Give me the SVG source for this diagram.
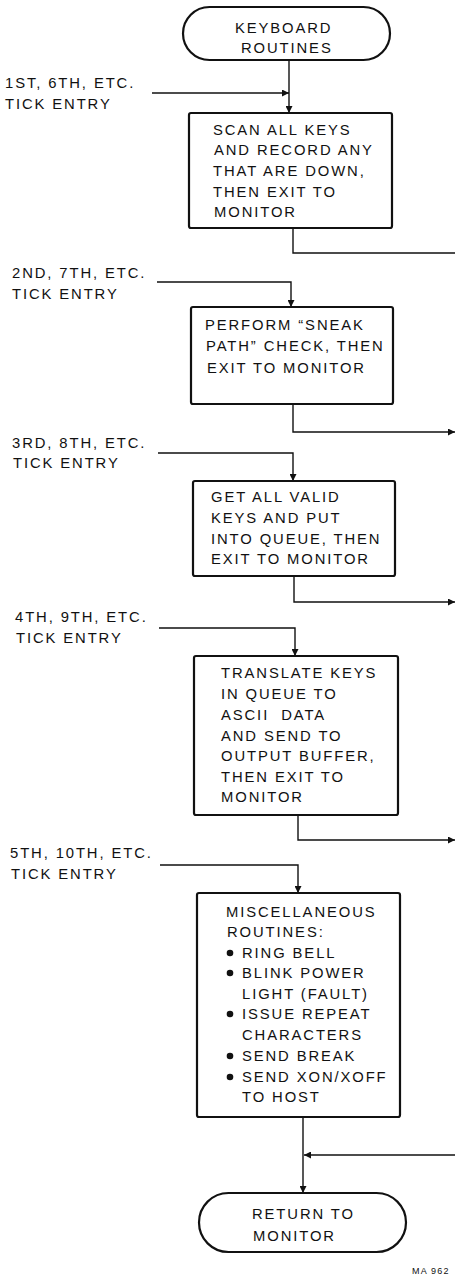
<svg xmlns="http://www.w3.org/2000/svg" width="455" height="1276" viewBox="0 0 455 1276">
<style>
text{font-family:"Liberation Sans",Arial,sans-serif;font-size:14.8px;letter-spacing:1.9px;fill:#111;white-space:pre}
.box{fill:#fff;stroke:#111;stroke-width:2.2}
.ln{fill:none;stroke:#111;stroke-width:1.4}
.tag{font-size:9px;letter-spacing:1.2px}
</style>
<defs>
<marker id="ah" viewBox="0 0 10 10" refX="10" refY="5" markerWidth="7" markerHeight="7" markerUnits="userSpaceOnUse" orient="auto">
<path d="M0,0 L10,5 L0,10 z" fill="#111"/>
</marker>
</defs>
<rect width="455" height="1276" fill="#fff"/>

<g id="connectors">
<path class="ln" d="M289,60 V113" marker-end="url(#ah)"/>
<path class="ln" d="M152,93 H289" marker-end="url(#ah)"/>
<path class="ln" d="M293,228 V253 H455"/>
<path class="ln" d="M157,282 H291 V307" marker-end="url(#ah)"/>
<path class="ln" d="M293,404 V432 H455" marker-end="url(#ah)"/>
<path class="ln" d="M158,453 H293 V481" marker-end="url(#ah)"/>
<path class="ln" d="M294,576 V602 H455" marker-end="url(#ah)"/>
<path class="ln" d="M159,628 H295 V656" marker-end="url(#ah)"/>
<path class="ln" d="M298,815 V840 H455" marker-end="url(#ah)"/>
<path class="ln" d="M160,865 H298 V893" marker-end="url(#ah)"/>
<path class="ln" d="M303,1117 V1193" marker-end="url(#ah)"/>
<path class="ln" d="M455,1155 H304" marker-end="url(#ah)"/>
</g>

<g id="labels">
<text x="5" y="88">1ST, 6TH, ETC.</text>
<text x="5" y="109">TICK ENTRY</text>
<text x="12" y="278">2ND, 7TH, ETC.</text>
<text x="12" y="299">TICK ENTRY</text>
<text x="12" y="448">3RD, 8TH, ETC.</text>
<text x="13" y="468">TICK ENTRY</text>
<text x="15" y="622">4TH, 9TH, ETC.</text>
<text x="16" y="643">TICK ENTRY</text>
<text x="10" y="858">5TH, 10TH, ETC.</text>
<text x="11" y="879">TICK ENTRY</text>
</g>

<g id="start">
<rect class="box" x="183" y="7" width="207" height="53" rx="26.5"/>
<text x="235" y="33">KEYBOARD</text>
<text x="241" y="53">ROUTINES</text>
</g>

<g id="scan">
<rect class="box" x="189" y="113" width="203" height="115" rx="2"/>
<text x="213" y="135">SCAN ALL KEYS</text>
<text x="214" y="155">AND RECORD ANY</text>
<text x="213" y="176">THAT ARE DOWN,</text>
<text x="213" y="197">THEN EXIT TO</text>
<text x="214" y="217">MONITOR</text>
</g>

<g id="sneak">
<rect class="box" x="191" y="307" width="202" height="97" rx="2"/>
<text x="205" y="330">PERFORM “SNEAK</text>
<text x="206" y="351">PATH” CHECK, THEN</text>
<text x="207" y="373">EXIT TO MONITOR</text>
</g>

<g id="valid">
<rect class="box" x="193" y="481" width="202" height="95" rx="2"/>
<text x="211" y="502">GET ALL VALID</text>
<text x="211" y="523">KEYS AND PUT</text>
<text x="211" y="544">INTO QUEUE, THEN</text>
<text x="211" y="564">EXIT TO MONITOR</text>
</g>

<g id="translate">
<rect class="box" x="194" y="656" width="204" height="159" rx="2"/>
<text x="221" y="678">TRANSLATE KEYS</text>
<text x="221" y="699">IN QUEUE TO</text>
<text x="221" y="720">ASCII  DATA</text>
<text x="221" y="741">AND SEND TO</text>
<text x="221" y="761">OUTPUT BUFFER,</text>
<text x="221" y="782">THEN EXIT TO</text>
<text x="221" y="802">MONITOR</text>
</g>

<g id="misc">
<rect class="box" x="197" y="893" width="203" height="224" rx="2"/>
<text x="226" y="917">MISCELLANEOUS</text>
<text x="227" y="937">ROUTINES:</text>
<circle cx="230" cy="953" r="3.3" fill="#111"/>
<text x="242" y="958">RING BELL</text>
<circle cx="230" cy="973" r="3.3" fill="#111"/>
<text x="242" y="978">BLINK POWER</text>
<text x="242" y="999">LIGHT (FAULT)</text>
<circle cx="230" cy="1014" r="3.3" fill="#111"/>
<text x="242" y="1019">ISSUE REPEAT</text>
<text x="242" y="1040">CHARACTERS</text>
<circle cx="230" cy="1056" r="3.3" fill="#111"/>
<text x="242" y="1061">SEND BREAK</text>
<circle cx="230" cy="1077" r="3.3" fill="#111"/>
<text x="242" y="1082">SEND XON/XOFF</text>
<text x="242" y="1102">TO HOST</text>
</g>

<g id="end">
<rect class="box" x="199" y="1193" width="207" height="59" rx="29.5"/>
<text x="252" y="1219">RETURN TO</text>
<text x="253" y="1241">MONITOR</text>
</g>

<text class="tag" x="412" y="1274">MA 962</text>
</svg>
